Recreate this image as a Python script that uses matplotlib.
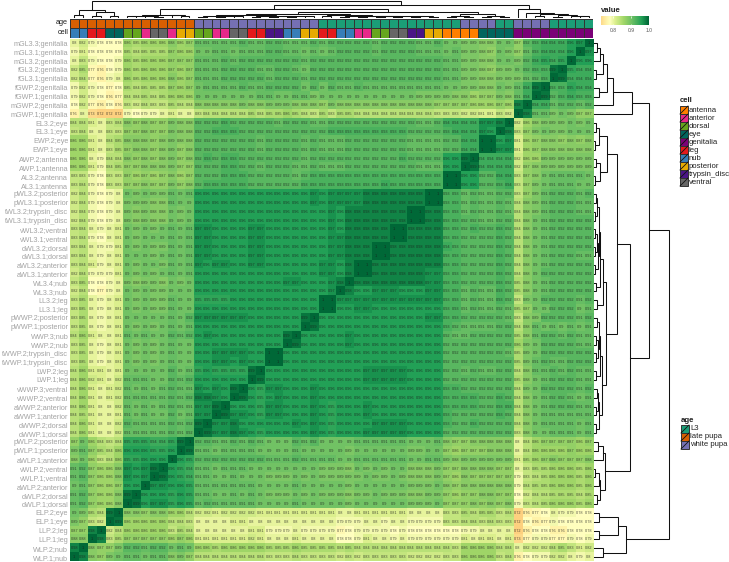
import numpy as np
import matplotlib
matplotlib.use("Agg")
import matplotlib.pyplot as plt
from matplotlib.colors import LinearSegmentedColormap, ListedColormap, Normalize
from matplotlib.patches import Rectangle

plt.rcParams["font.family"] = ["Liberation Sans", "DejaVu Sans"]

W, H = 729, 562

row_labels = [
    "mGL3.3;genitalia", "mGL3.1;genitalia", "mGL3.2;genitalia", "fGL3.2;genitalia", "fGL3.1;genitalia",
    "fGWP.2;genitalia", "fGWP.1;genitalia", "mGWP.2;genitalia", "mGWP.1;genitalia",
    "EL3.2;eye", "EL3.1;eye", "EWP.2;eye", "EWP.1;eye",
    "AWP.2;antenna", "AWP.1;antenna", "AL3.2;antenna", "AL3.1;antenna",
    "pWL3.2;posterior", "pWL3.1;posterior", "tWL3.2;trypsin_disc", "tWL3.1;trypsin_disc",
    "vWL3.2;ventral", "vWL3.1;ventral", "dWL3.2;dorsal", "dWL3.1;dorsal",
    "aWL3.2;anterior", "aWL3.1;anterior", "WL3.4;nub", "WL3.3;nub", "LL3.2;leg", "LL3.1;leg",
    "pWWP.2;posterior", "pWWP.1;posterior", "WWP.3;nub", "WWP.2;nub",
    "tWWP.2;trypsin_disc", "tWWP.1;trypsin_disc", "LWP.2;leg", "LWP.1;leg",
    "vWWP.3;ventral", "vWWP.2;ventral", "aWWP.2;anterior", "aWWP.1;anterior",
    "dWWP.2;dorsal", "dWWP.1;dorsal", "pWLP.2;posterior", "pWLP.1;posterior",
    "aWLP.1;anterior", "vWLP.2;ventral", "vWLP.1;ventral", "aWLP.2;anterior",
    "dWLP.2;dorsal", "dWLP.1;dorsal", "ELP.2;eye", "ELP.1;eye", "LLP.2;leg", "LLP.1;leg",
    "WLP.2;nub", "WLP.1;nub",
]

# correlation x100, each row read from the left edge up to its diagonal cell
corr_rows = [
    [80,82,79,78,78,78,86,85,86,86,86,88,86,87, 91,91,91,91,91,92,91,91,92,92,91,91,91,92, 91,92,92,92,92,92,91,92,92,92,92,91,91,92, 90,90, 89,89,88,88,90,90, 87,92,93,94,94,94,96,97],
    [79,81,78,78,78,78,85,84,85,85,85,87,86,86, 90,90,91,91,90,91,91,91,92,92,91,91,90,91, 90,91,92,92,92,92,91,92,92,92,92,91,91,91, 90,91, 89,89,88,87,90,89, 87,91,93,94,94,94,96],
    [80,83,79,78,78,79,86,85,86,86,86,87,87,87, 91,91,91,92,91,92,92,92,92,92,92,92,91,92, 92,92,92,92,92,92,92,92,92,92,92,92,92,92, 91,91, 89,89,88,88,90,90, 89,92,94,95,94,95],
    [82,85,77,76,78,79,86,85,86,86,86,87,86,87, 91,91,91,92,92,92,92,91,91,92,92,91,90,92, 92,92,92,92,92,92,92,92,92,92,92,92,92,92, 91,91, 89,89,88,87,89,89, 90,92,93,93,99],
    [82,84,77,76,79,80,86,85,86,86,86,88,86,87, 91,91,91,92,92,92,92,92,91,92,92,92,91,92, 92,92,92,92,92,92,92,92,92,92,92,92,92,92, 91,91, 89,89,88,88,89,89, 89,91,92,93],
    [79,82,79,78,77,78,85,84,85,85,85,87,86,87, 90,91,91,91,91,92,91,91,92,92,92,92,90,92, 90,92,91,91,92,91,91,91,91,91,91,91,91,91, 90,90, 89,89,88,88,90,89, 91,94,99],
    [79,82,79,78,76,77,84,84,85,84,85,86,86,86, 90,90,90,90,90,90,90,91,91,90,90,91,91,89, 90,90,90,90,90,90,90,90,90,90,90,89,89,89, 89,88, 88,86,87,87,89,88, 91,94],
    [78,82,77,76,78,76,83,82,84,83,83,85,84,84, 88,88,88,88,88,89,88,88,89,89,89,88,88,88, 87,89,88,88,88,88,88,88,88,88,88,88,88,87, 87,87, 87,86,86,86,87,86, 98],
    [76,80,73,72,72,72,79,78,79,79,80,81,80,80, 83,84,84,84,84,84,85,84,85,85,86,85,84,83, 85,83,85,85,84,84,84,84,84,84,84,84,84,83, 83,83, 82,82,81,81,83,82],
    [84,84,81,80,83,84,88,87,88,87,87,89,88,88, 92,92,92,93,92,92,92,92,92,91,92,92,92,91, 91,92,92,92,92,92,92,92,92,92,92,91,91,92, 94,94, 94,94,97,97,98],
    [83,84,80,80,83,83,87,87,88,87,87,89,88,88, 92,92,93,93,93,92,92,92,92,92,92,92,92,92, 92,93,93,93,93,93,93,93,93,93,92,92,92,92, 93,94, 94,94,97,96],
    [86,86,81,80,84,85,88,88,88,87,88,89,88,88, 92,92,92,92,92,92,92,91,92,92,92,92,91,92, 91,91,91,92,92,92,92,92,92,92,91,91,91,91, 92,92, 94,94,100],
    [86,86,81,80,83,85,87,88,88,87,88,89,87,88, 92,92,92,92,92,92,92,91,92,92,92,92,91,92, 91,91,91,92,92,92,92,92,92,92,91,91,91,91, 92,92, 94,94],
    [86,86,80,79,84,84,88,87,88,87,88,89,87,88, 92,93,92,93,93,92,92,92,92,92,92,92,91,92, 92,92,92,92,92,92,92,92,92,93,92,92,92,92, 96,96, 99],
    [86,86,81,79,84,85,87,87,88,88,88,89,87,87, 92,92,92,93,93,92,92,91,92,92,92,91,91,92, 91,91,91,92,92,92,92,92,92,92,92,91,91,91, 96,96],
    [83,83,79,78,83,83,87,86,87,86,87,88,86,87, 92,92,92,93,93,93,92,92,92,92,92,91,92,93, 93,93,93,93,93,93,93,93,93,93,93,93,93,93, 100],
    [83,84,79,78,83,83,87,87,88,87,87,89,87,88, 92,93,93,93,93,93,92,92,92,92,92,92,93,93, 93,93,93,93,93,93,93,94,93,93,93,93,93,93],
    [82,84,79,78,79,80,90,89,90,89,89,91,90,91, 96,96,96,96,96,96,96,96,96,96,96,96,96,97, 96,97,97,97,97,98,98,98,98,98,98,98, 100],
    [82,84,79,78,79,80,89,89,89,88,88,91,90,90, 96,96,96,96,96,96,96,96,96,96,96,96,96,97, 96,97,97,97,97,98,98,98,98,98,98,98],
    [82,84,79,78,79,80,89,88,89,88,88,90,89,90, 96,96,96,96,96,96,96,96,96,96,96,96,96,96, 96,97,96,98,98,98,98,98,98,98, 100],
    [82,84,79,78,79,80,89,88,89,88,88,90,89,90, 96,96,96,96,96,96,96,96,96,96,96,96,96,96, 96,97,96,98,98,98,98,98,98,98],
    [83,84,80,79,80,81,90,89,90,89,90,91,90,91, 97,97,96,96,96,96,97,97,96,96,96,96,96,96, 96,97,96,98,98,98,98,98, 100],
    [83,84,79,78,80,81,90,89,90,90,90,91,90,91, 97,97,96,96,96,96,97,97,96,96,96,96,96,96, 96,97,97,98,98,98,98,98],
    [83,84,80,79,79,81,90,89,90,89,89,91,90,91, 97,97,96,96,96,96,97,97,96,96,96,96,96,96, 96,97,97,98,98,98, 100],
    [83,84,80,79,80,81,90,90,90,89,90,91,90,91, 97,97,96,96,96,96,97,97,96,96,96,96,96,96, 96,97,97,98,98,98],
    [83,84,81,79,80,81,90,89,90,90,89,91,90,91, 97,96,97,97,96,96,97,97,96,96,96,96,96,96, 97,97,96,98, 100],
    [82,84,79,79,79,81,90,89,90,89,90,91,90,91, 96,96,96,96,96,96,96,96,96,96,96,96,96,96, 97,97,96,98],
    [83,85,78,78,79,80,89,88,89,89,88,90,89,90, 96,96,96,96,96,96,96,96,96,96,97,97,96,96, 96,97,98],
    [82,84,78,77,79,80,90,89,90,89,89,90,90,90, 96,96,96,96,96,96,96,96,96,96,96,96,96,96, 96,97],
    [83,85,80,79,80,81,90,89,90,89,89,91,90,90, 95,95,95,95,96,96,96,96,96,96,96,96,96,96, 100],
    [83,85,80,79,80,81,90,89,90,89,89,91,90,90, 96,96,96,96,96,96,96,96,96,96,96,96,96,96],
    [83,85,80,79,80,81,90,90,90,90,90,91,90,92, 97,97,97,97,97,97,96,96,96,96,96,96, 99],
    [83,85,80,79,80,81,90,89,90,89,90,91,90,91, 96,96,96,96,96,96,96,96,96,96,96,96],
    [84,86,81,80,80,81,91,90,91,90,90,92,91,92, 96,97,96,96,96,96,96,96,96,96, 99],
    [83,85,80,79,80,81,90,89,90,89,90,91,90,90, 96,96,96,96,96,96,96,96,96,96],
    [83,85,80,79,80,81,90,89,90,89,90,91,90,90, 96,96,97,97,97,97,96,96, 100],
    [83,85,80,79,80,81,90,89,90,89,90,91,90,90, 96,96,97,97,96,97,96,96],
    [84,86,81,81,80,81,90,90,90,90,90,92,90,91, 95,96,95,95,95,95, 99],
    [84,86,82,81,80,82,91,91,91,90,90,92,91,92, 96,96,96,96,96,96],
    [84,86,81,80,81,82,91,90,91,90,91,92,91,91, 97,96,97,96, 99],
    [84,86,81,80,81,82,91,91,91,91,91,92,91,92, 98,98,97,96],
    [84,86,81,80,80,82,91,90,91,90,91,92,91,91, 97,97, 99],
    [84,85,81,80,80,81,91,90,91,90,90,92,90,91, 97,97],
    [84,86,81,80,80,82,92,91,91,91,91,92,91,92, 99],
    [84,86,81,80,80,82,91,91,91,91,91,92,91,92],
    [87,90,86,84,83,84,95,95,95,94,94,95,99],
    [89,91,87,85,84,86,96,96,96,95,95,96],
    [88,90,86,83,84,86,95,95,96,96,96],
    [91,92,87,86,86,88,97,96,97,99],
    [91,92,87,86,86,88,97,96,97],
    [90,91,87,86,86,87,96,96],
    [91,92,87,86,86,88,99],
    [91,92,87,86,86,88],
    [90,89,85,84,99],
    [89,87,83,82],
    [87,87,98],
    [88,88],
    [98],
    [],
]

# merge tree of the rows: (height, upper, lower), ints are row numbers
genitalia_tree = (38, (19, (13, (9, (6, (3, 0, 1), 2), (1.5, 3, 4)), (5, 5, 6)), 7), 8)
eye_antenna_tree = (13, (5, (2, 9, 10), (1, 11, 12)), (6, (2, 13, 14), (1, 15, 16)))
l3_tree = (9.3, (6, (4.5, (3, (1.5, 17, 18), (1.2, 19, 20)), (3.5, (2.5, (1, 21, 22), (1, 23, 24)), (1, 25, 26))), (2, 27, 28)), (3.3, 29, 30))
wp_tree = (8, (6, (4.5, (3, 31, 32), (3.5, (2, 33, 34), (1.5, 35, 36))), (2, 37, 38)), (5, (3.5, (2.5, 39, 40), (2, 41, 42)), (2, 43, 44)))
lp_tree = (11, (9, (4, 45, 46), 47), (6, (5, (1, 48, 49), 50), (3, 51, 52)))
tail_tree = (32, (24, (5, 53, 54), (5, 55, 56)), (9, 57, 58))
row_tree = (75, (55, genitalia_tree, (36, (23, eye_antenna_tree, (12, l3_tree, wp_tree)), lp_tree)), tail_tree)

cell_types = ["antenna", "anterior", "dorsal", "eye", "genitalia", "leg", "nub", "posterior", "trypsin_disc", "ventral"]
cell_colors = ["#FF7F00", "#E7298A", "#66A61E", "#01665E", "#7A0177", "#E31A1C", "#377EB8", "#E6AB02", "#4A1486", "#666666"]
age_types = ["L3", "late pupa", "white pupa"]
age_colors = ["#1B9E77", "#D95F02", "#7570B3"]
value_ticks = [0.8, 0.9, 1.0]

n = len(row_labels)
corr = np.eye(n)
for r, vals in enumerate(corr_rows):
    assert len(vals) == n - 1 - r, r
    for c, v in enumerate(vals):
        corr[r, c] = v / 100
        corr[n - 1 - c, n - 1 - r] = v / 100
for r in range(n):
    corr[r, n - 1 - r] = 1.0

cmap = LinearSegmentedColormap.from_list("corr", [
    (0.0, "#fdd07f"), (0.14, "#fff2a8"), (0.215, "#ffffbf"), (0.32, "#dcf08e"),
    (0.5, "#a0d668"), (0.68, "#66bd63"), (0.86, "#22a056"), (1.0, "#006837"),
])
norm = Normalize(0.72, 1.0)


def px_axes(fig, x0, y0, x1, y1):
    return fig.add_axes([x0 / W, 1 - y1 / H, (x1 - x0) / W, (y1 - y0) / H])


def get_age(label):
    name = label.split(";")[0]
    if "L3" in name:
        return "L3"
    return "late pupa" if "LP" in name else "white pupa"


def draw_tree(ax, node, vertical):
    if not isinstance(node, tuple):
        return n - 1 - node + 0.5 if vertical else node + 0.5, 0
    h, first, second = node
    p1, h1 = draw_tree(ax, first, vertical)
    p2, h2 = draw_tree(ax, second, vertical)
    if vertical:
        ax.plot([p1, p1, p2, p2], [h1, h, h, h2], color="#111111", lw=0.75, solid_joinstyle="miter", clip_on=False)
    else:
        ax.plot([h1, h, h, h2], [p1, p1, p2, p2], color="#111111", lw=0.75, solid_joinstyle="miter", clip_on=False)
    return (p1 + p2) / 2, h


def draw_annotation(fig, y0, y1, names, types, colors, title):
    ax = px_axes(fig, HM_X0, y0, HM_X1, y1)
    codes = np.array([[types.index(x) for x in names]])
    ax.pcolormesh(codes, cmap=ListedColormap(colors), vmin=-0.5, vmax=len(types) - 0.5,
                  edgecolors="#333333", linewidth=0.6)
    ax.axis("off")
    fig.text((HM_X0 - 1.5) / W, 1 - (y0 + y1) / 2 / H, title, ha="right", va="center",
             fontsize=5.3, color="#222222")


def draw_legend(ax, x, y, title, types, colors):
    ax.text(x, y, title, fontsize=5.6, fontweight="bold", va="center", color="#222222")
    for i, (name, color) in enumerate(zip(types, colors)):
        top = y + 5 + 8 * i
        ax.add_patch(Rectangle((x, top), 8, 8, facecolor=color, edgecolor="#333333", lw=0.7))
        ax.plot([x, x + 8], [top + 8, top], color="#111111", lw=0.6)
        ax.text(x + 9, top + 4, name, fontsize=5.6, va="center", color="#222222")


HM_X0, HM_X1, HM_Y0, HM_Y1 = 69.7, 593, 39, 561.5

fig = plt.figure(figsize=(W / 100, H / 100), dpi=100)

ax = px_axes(fig, HM_X0, HM_Y0, HM_X1, HM_Y1)
ax.imshow(corr, cmap=cmap, norm=norm, aspect="auto", interpolation="nearest", extent=(0, n, n, 0))
for r in range(n):
    for c in range(n):
        ax.text(c + 0.5, r + 0.5, f"{corr[r, c]:g}", ha="center", va="center", fontsize=2.8, color="#1a1a1a", alpha=0.75)
ax.set_xticks([])
ax.yaxis.tick_left()
ax.set_yticks(np.arange(n) + 0.5, labels=row_labels, fontsize=5.2, color="#a3a3a3")
ax.tick_params(axis="y", length=0, pad=1)
for side in ax.spines.values():
    side.set_visible(False)

col_labels = row_labels[::-1]
draw_annotation(fig, 18.5, 27.5, [get_age(x) for x in col_labels], age_types, age_colors, "age")
draw_annotation(fig, 28.3, 37.5, [x.split(";")[1] for x in col_labels], cell_types, cell_colors, "cell")

ax_right = px_axes(fig, 594, HM_Y0, 669, HM_Y1)
ax_right.set_xlim(0, 75)
ax_right.set_ylim(n, 0)
ax_right.axis("off")
draw_tree(ax_right, row_tree, False)

ax_top = px_axes(fig, HM_X0, 1, HM_X1, 17)
ax_top.set_xlim(0, n)
ax_top.set_ylim(0, 75)
ax_top.axis("off")
draw_tree(ax_top, row_tree, True)

# colour bar
ax_bar = px_axes(fig, 601, 16.3, 649, 25.5)
grad = np.linspace(0.73, 1.002, 200)[None, :]
ax_bar.imshow(grad, cmap=cmap, norm=norm, aspect="auto", extent=(0.73, 1.002, 0, 1))
ax_bar.set_yticks([])
ax_bar.set_xticks(value_ticks, labels=["0.8", "0.9", "1.0"], fontsize=3.6, color="#555555")
ax_bar.tick_params(axis="x", length=0, pad=1.5)
ax_bar.vlines(value_ticks, 0, 0.2, color="white", lw=0.5)
ax_bar.vlines(value_ticks, 0.8, 1, color="white", lw=0.5)
for side in ax_bar.spines.values():
    side.set_visible(False)

ax_legend = px_axes(fig, 0, 0, W, H)
ax_legend.set_xlim(0, W)
ax_legend.set_ylim(H, 0)
ax_legend.axis("off")
ax_legend.patch.set_alpha(0)
ax_legend.text(601, 11, "value", fontsize=5.6, fontweight="bold", va="center", color="#222222")
draw_legend(ax_legend, 680, 101, "cell", cell_types, cell_colors)
draw_legend(ax_legend, 681, 420, "age", age_types, age_colors)

fig.savefig("out.png", dpi=100)
